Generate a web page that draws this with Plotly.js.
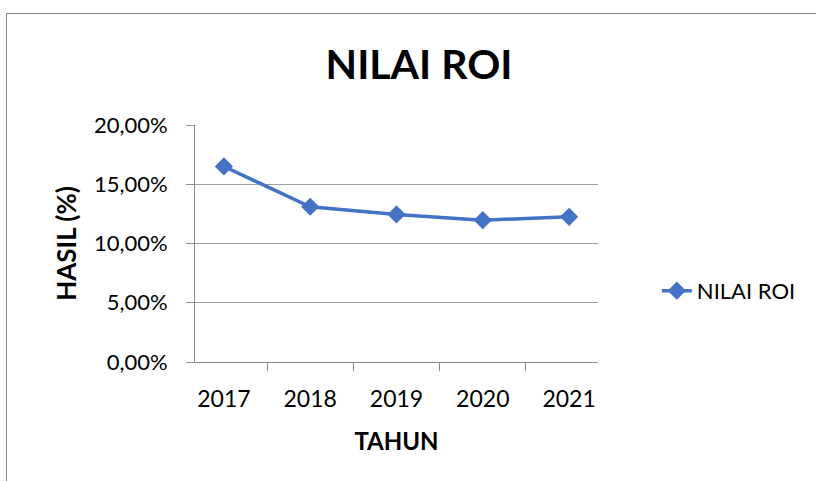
<!DOCTYPE html>
<html>
<head>
<meta charset="utf-8">
<script src="https://cdn.plot.ly/plotly-3.0.1.min.js"></script>
<style>
html,body{margin:0;padding:0;background:#fff;overflow:hidden;}
#chart{width:816px;height:481px;}
#frame{position:absolute;left:6px;top:13px;width:900px;height:600px;border:1px solid #8c8c8c;pointer-events:none;box-sizing:border-box;}
</style>
</head>
<body>
<div id="chart"></div>
<div id="frame"></div>
<script>
const years = ['2017', '2018', '2019', '2020', '2021'];
const roiValues = [0.165, 0.131, 0.1245, 0.1197, 0.1225];
const seriesName = 'NILAI ROI';
const yTickVals = [0, 0.05, 0.10, 0.15, 0.20];

const font = 'Lato, "Open Sans", sans-serif';

const trace = {
  x: years,
  y: roiValues,
  name: seriesName,
  type: 'scatter',
  mode: 'lines+markers',
  line: {color: '#4472C4', width: 3.5},
  marker: {symbol: 'diamond', size: 14, color: '#4472C4'}
};

const layout = {
  width: 816,
  height: 481,
  paper_bgcolor: '#ffffff',
  plot_bgcolor: '#ffffff',
  separators: ',.',
  margin: {l: 195, r: 218, t: 125, b: 119},
  title: {
    text: '<b>NILAI ROI</b>',
    font: {family: font, size: 41, color: '#000000'},
    x: 0.5135, xanchor: 'center',
    y: 0.866, yanchor: 'middle'
  },
  font: {family: font, size: 23, color: '#000000'},
  xaxis: {
    type: 'category',
    tickson: 'boundaries',
    ticks: 'outside',
    ticklen: 8,
    tickcolor: '#8c8c8c',
    ticklabelstandoff: 16,
    showline: true,
    linecolor: '#8c8c8c',
    linewidth: 1,
    showgrid: false,
    zeroline: false,
    tickfont: {family: font, size: 23, color: '#000000'},
    title: {text: '<b>TAHUN</b>', font: {family: font, size: 24, color: '#000000'}, standoff: 22}
  },
  yaxis: {
    range: [0, 0.2],
    tickvals: yTickVals,
    tickformat: '.2%',
    ticks: 'outside',
    ticklen: 8,
    tickcolor: '#8c8c8c',
    ticklabelstandoff: 14,
    showline: true,
    linecolor: '#8c8c8c',
    linewidth: 1,
    showgrid: true,
    gridcolor: '#9e9e9e',
    gridwidth: 1,
    zeroline: false,
    tickfont: {family: font, size: 22, color: '#000000'},
    title: {text: '<b>HASIL (%)</b>', font: {family: font, size: 26, color: '#000000'}, standoff: 9}
  },
  showlegend: true,
  legend: {
    x: 1.146, xanchor: 'left',
    y: 0.3, yanchor: 'middle',
    font: {family: font, size: 22, color: '#000000'},
    bgcolor: 'rgba(0,0,0,0)'
  }
};

Plotly.newPlot('chart', [trace], layout, {displayModeBar: false, staticPlot: true});
</script>
</body>
</html>
